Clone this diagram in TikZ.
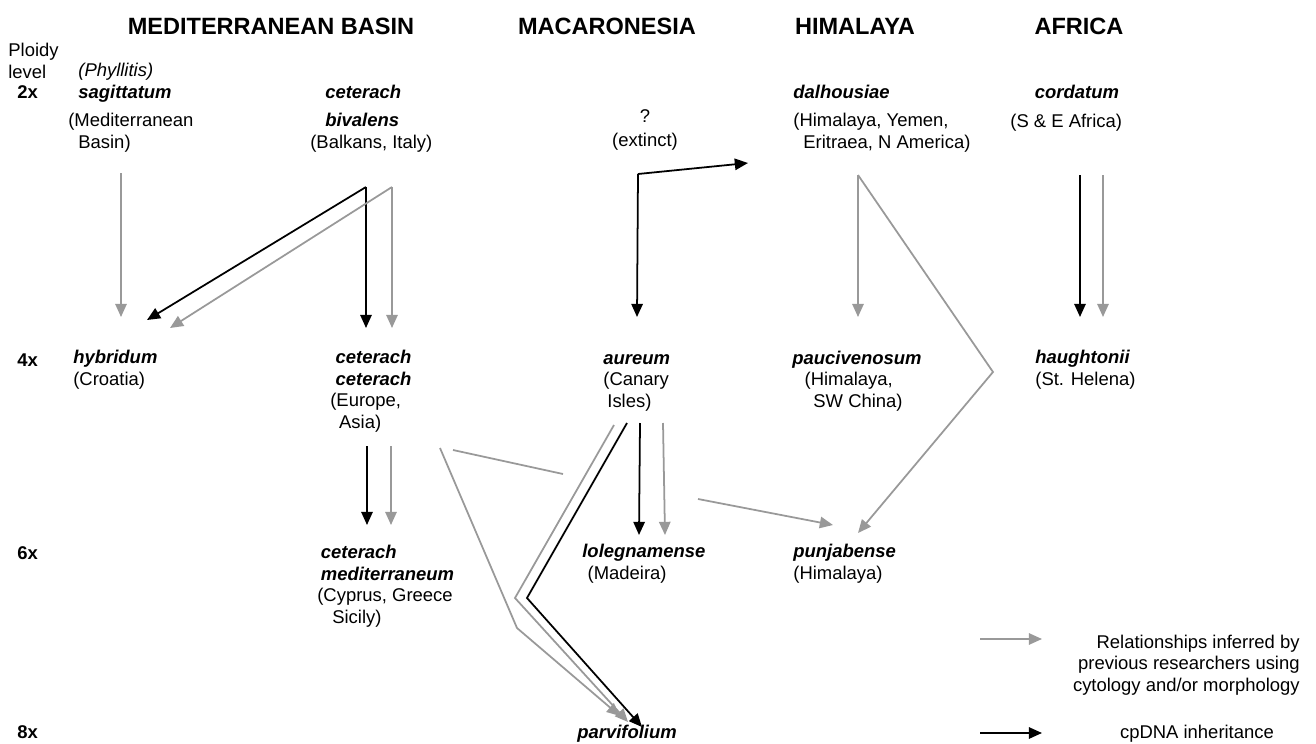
\documentclass[tikz,border=0pt]{standalone}
\usepackage{fontspec}
\setmainfont{Liberation Sans}
\usetikzlibrary{arrows.meta}

\definecolor{cytogray}{HTML}{999999}
\newcommand{\spn}[1]{\textbf{\textit{#1}}}

\tikzset{
  region/.style = {font=\fontsize{13.4}{16}\selectfont\bfseries, anchor=base, inner sep=0pt},
  taxon/.style = {font=\fontsize{10.5}{12.2}\selectfont, align=left, anchor=base west, inner sep=0pt},
  ploidy/.style = {font=\fontsize{10.5}{12.2}\selectfont\bfseries, anchor=base west, inner sep=0pt},
  cp/.style = {draw=black, line width=1pt, -{Triangle[length=7.5pt,width=6.5pt]}},
  inf/.style = {draw=cytogray, line width=1pt, -{Triangle[length=7.5pt,width=6.5pt]}},
  infline/.style = {draw=cytogray, line width=1pt}
}

\begin{document}
\begin{tikzpicture}[x=0.02cm, y=-0.02cm]
  \useasboundingbox (0,0) rectangle (1316,744);
  % regions
  \node[region] (medi) at (271,34) {MEDITERRANEAN BASIN};
  \node[region] (maca) at (607,34) {MACARONESIA};
  \node[region] (hima) at (855,34) {HIMALAYA};
  \node[region] (afri) at (1079,34) {AFRICA};
  % ploidy levels (nodes sit on the baseline of their last line)
  \node[taxon] (plevel) at (8,78) {Ploidy\\level};
  \node[ploidy] (p2) at (17,98) {2x};
  \node[ploidy] (p4) at (17,366) {4x};
  \node[ploidy] (p6) at (17,559) {6x};
  \node[ploidy] (p8) at (17,738) {8x};
  % 2x
  \node[taxon] (sag) at (68,148) {\hspace*{5.7pt}\textit{(Phyllitis)}\\\hspace*{5.7pt}\spn{sagittatum}\\[4pt](Mediterranean\\\hspace*{5.7pt}Basin)};
  \node[taxon] (biv) at (310,148) {\hspace*{8.5pt}\spn{ceterach}\\[4pt]\hspace*{8.5pt}\spn{bivalens}\\(Balkans, Italy)};
  \node[taxon, align=center, anchor=base] (ext) at (645,146) {?\\[1pt](extinct)};
  \node[taxon] (dal) at (793,148) {\spn{dalhousiae}\\[4pt](Himalaya, Yemen,\\\hspace*{5.7pt}Eritraea, N America)};
  \node[taxon] (cor) at (1010,127) {\hspace*{14pt}\spn{cordatum}\\[4pt](S \& E Africa)};
  % 4x
  \node[taxon] (hyb) at (73,385) {\spn{hybridum}\\(Croatia)};
  \node[taxon] (cet) at (330,428) {\hspace*{3pt}\spn{ceterach}\\\hspace*{3pt}\spn{ceterach}\\(Europe,\\\hspace*{5pt}Asia)};
  \node[taxon] (aur) at (603,407) {\spn{aureum}\\(Canary\\\hspace*{2.3pt}Isles)};
  \node[taxon] (pau) at (792,407) {\spn{paucivenosum}\\\hspace*{7pt}(Himalaya,\\\hspace*{12pt}SW China)};
  \node[taxon] (hau) at (1035,385) {\spn{haughtonii}\\(St. Helena)};
  % 6x
  \node[taxon] (med) at (317,623) {\hspace*{2pt}\spn{ceterach}\\\hspace*{2pt}\spn{mediterraneum}\\(Cyprus, Greece\\\hspace*{8.5pt}Sicily)};
  \node[taxon] (lol) at (582,579) {\spn{lolegnamense}\\\hspace*{3pt}(Madeira)};
  \node[taxon] (pun) at (793,579) {\spn{punjabense}\\(Himalaya)};
  % 8x
  \node[taxon] (par) at (577,738) {\spn{parvifolium}};
  % legend
  \node[taxon, align=right, anchor=base east] (leginf) at (1300,691) {Relationships inferred by\\previous researchers using\\cytology and/or morphology};
  \node[taxon, anchor=base] (legcp) at (1197,738) {cpDNA inheritance};

  % arrow ends
  \coordinate (sag-o) at (121,173);
  \coordinate (hyb-i1) at (121,317);
  \coordinate (hyb-i2) at (147,320);
  \coordinate (hyb-i3) at (170,328);
  \coordinate (biv-k) at (366,187);
  \coordinate (biv-g) at (392,187);
  \coordinate (cet-i1) at (366,328);
  \coordinate (cet-i2) at (392,328);
  \coordinate (ext-o) at (638,174);
  \coordinate (dal-i) at (748,163);
  \coordinate (aur-i) at (637,317);
  \coordinate (dal-o) at (858,175);
  \coordinate (dal-bend) at (993,372);
  \coordinate (pau-i) at (858,317);
  \coordinate (pun-i1) at (858,533);
  \coordinate (cor-k) at (1080,175);
  \coordinate (cor-g) at (1103,175);
  \coordinate (hau-i1) at (1080,317);
  \coordinate (hau-i2) at (1103,317);
  \coordinate (cet-k) at (367,446);
  \coordinate (cet-g) at (391,446);
  \coordinate (med-i1) at (367,525);
  \coordinate (med-i2) at (391,525);
  \coordinate (cet-p) at (440,448);
  \coordinate (cet-bend) at (517,628);
  \coordinate (cet-q) at (453,450);
  \coordinate (gap-a) at (563,474);
  \coordinate (gap-b) at (698,499);
  \coordinate (pun-i2) at (833,525);
  \coordinate (aur-g) at (614,425);
  \coordinate (aur-gbend) at (515,598);
  \coordinate (aur-k) at (627,423);
  \coordinate (aur-kbend) at (527,598);
  \coordinate (aur-k2) at (640,423);
  \coordinate (aur-g2) at (663,423);
  \coordinate (lol-i1) at (639,535);
  \coordinate (lol-i2) at (665,535);
  \coordinate (par-i1) at (620,716);
  \coordinate (par-i2) at (628,722);
  \coordinate (par-i3) at (642,727);
  \coordinate (leg-g1) at (980,639);
  \coordinate (leg-g2) at (1042,639);
  \coordinate (leg-k1) at (980,733);
  \coordinate (leg-k2) at (1042,733);

  % 2x -> 4x
  \draw[inf] (sag-o) -- (hyb-i1);
  \draw[cp] (biv-k) -- (hyb-i2);
  \draw[cp] (biv-k) -- (cet-i1);
  \draw[inf] (biv-g) -- (hyb-i3);
  \draw[inf] (biv-g) -- (cet-i2);
  \draw[cp] (ext-o) -- (dal-i);
  \draw[cp] (ext-o) -- (aur-i);
  \draw[inf] (dal-o) -- (pau-i);
  \draw[inf] (dal-o) -- (dal-bend) -- (pun-i1);
  \draw[cp] (cor-k) -- (hau-i1);
  \draw[inf] (cor-g) -- (hau-i2);
  % 4x -> 6x, 8x
  \draw[cp] (cet-k) -- (med-i1);
  \draw[inf] (cet-g) -- (med-i2);
  \draw[inf] (cet-p) -- (cet-bend) -- (par-i1);
  \draw[infline] (cet-q) -- (gap-a);
  \draw[inf] (gap-b) -- (pun-i2);
  \draw[inf] (aur-g) -- (aur-gbend) -- (par-i2);
  \draw[cp] (aur-k) -- (aur-kbend) -- (par-i3);
  \draw[cp] (aur-k2) -- (lol-i1);
  \draw[inf] (aur-g2) -- (lol-i2);
  % legend arrows
  \draw[inf] (leg-g1) -- (leg-g2);
  \draw[cp] (leg-k1) -- (leg-k2);
\end{tikzpicture}
\end{document}
